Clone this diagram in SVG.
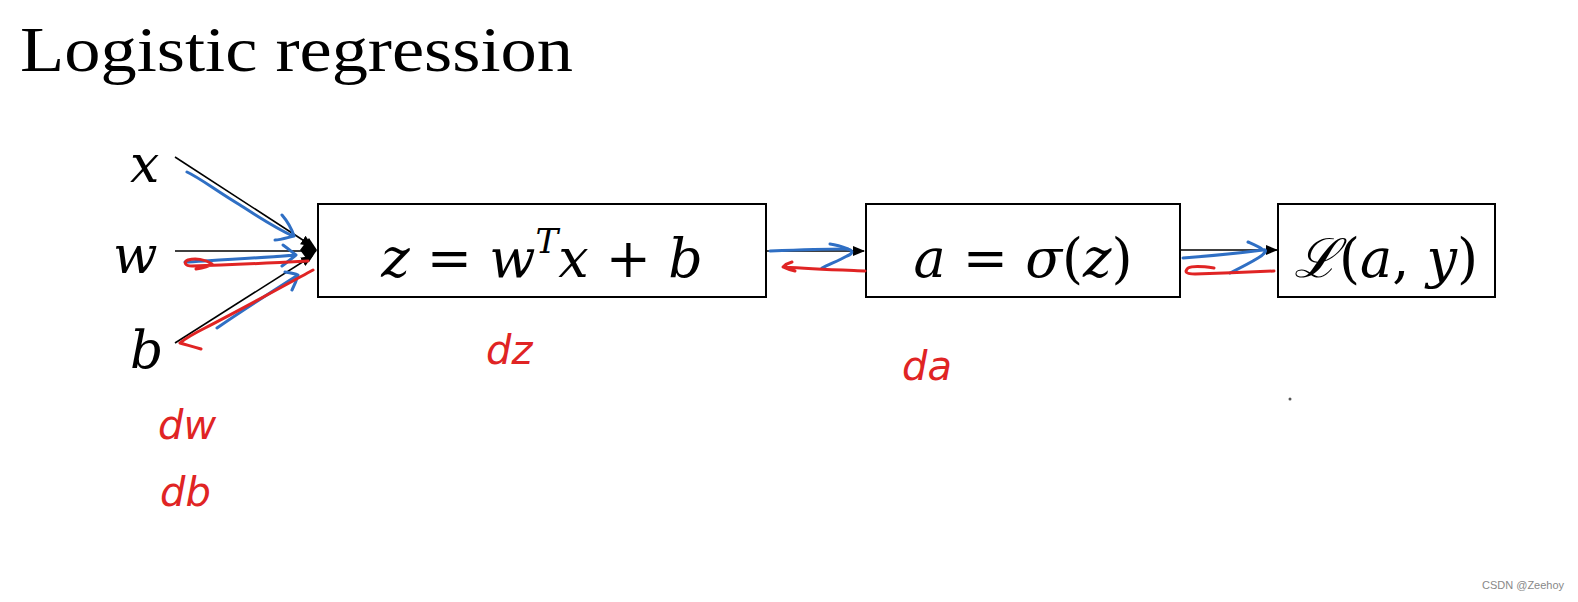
<svg xmlns="http://www.w3.org/2000/svg" width="1578" height="602" viewBox="0 0 1578 602">
<style>
.title{font-family:"Liberation Serif",serif;font-size:64px;fill:#000}
.math{font-family:"DejaVu Serif","Liberation Serif",serif;font-style:italic;font-size:54px;fill:#000}
.inp{font-family:"DejaVu Serif","Liberation Serif",serif;font-style:italic;font-size:52px;fill:#000}
.box{fill:#fff;stroke:#000;stroke-width:2}
.ln{stroke:#000;stroke-width:1.6;fill:none}
.blue{stroke:#2f6fc4;stroke-width:3;fill:none;stroke-linecap:round;stroke-linejoin:round}
.red{stroke:#e02424;stroke-width:3;fill:none;stroke-linecap:round;stroke-linejoin:round}
.hand{font-family:"DejaVu Sans",sans-serif;font-style:italic;font-size:40px;fill:#e02424}
.wm{font-family:"Liberation Sans",sans-serif;font-size:11px;fill:#888}
</style>
<defs>
<marker id="ah" markerWidth="12" markerHeight="12" refX="11" refY="6" orient="auto" markerUnits="userSpaceOnUse">
<path d="M0,1 L12,6 L0,11 Z" fill="#000"/>
</marker>
</defs>
<rect width="1578" height="602" fill="#fff"/>
<text class="title" x="20" y="71" textLength="553" lengthAdjust="spacingAndGlyphs">Logistic regression</text>

<g id="input-x"><text class="inp" x="130" y="182">x</text></g>
<g id="input-w"><text class="inp" x="113" y="273">w</text></g>
<g id="input-b"><text class="inp" x="130" y="368">b</text></g>

<g id="node-z">
<rect class="box" x="318" y="204" width="448" height="93"/>
<text class="math" x="542" y="277" text-anchor="middle">z <tspan font-style="normal">=</tspan> w<tspan font-size="34" dy="-24">T</tspan><tspan dy="24">x </tspan><tspan font-style="normal">+</tspan> b</text>
</g>
<g id="node-a">
<rect class="box" x="866" y="204" width="314" height="93"/>
<text class="math" x="1023" y="277" text-anchor="middle">a <tspan font-style="normal">=</tspan>  σ<tspan font-style="normal">(</tspan>z<tspan font-style="normal">)</tspan></text>
</g>
<g id="node-L">
<rect class="box" x="1278" y="204" width="217" height="93"/>
<text class="math" x="1386" y="277" text-anchor="middle">ℒ<tspan font-style="normal">(</tspan>a<tspan font-style="normal">,</tspan> y<tspan font-style="normal">)</tspan></text>
</g>

<g id="connectors">
<line class="ln" x1="175" y1="157" x2="312" y2="246" marker-end="url(#ah)"/>
<line class="ln" x1="175" y1="251" x2="316" y2="251" marker-end="url(#ah)"/>
<line class="ln" x1="175" y1="343" x2="312" y2="256" marker-end="url(#ah)"/>
<path d="M300,250 L309,238 L317,250 L309,262 Z" fill="#000"/>
<line class="ln" x1="767" y1="251" x2="864" y2="251" marker-end="url(#ah)"/>
<line class="ln" x1="1181" y1="250" x2="1277" y2="250" marker-end="url(#ah)"/>
</g>

<g id="annotations">
<path class="blue" d="M187,172 C200,178 215,190 240,205 C260,218 275,228 293,236 M282,215 C288,222 292,230 294,236 C286,238 280,240 275,240"/>
<path class="blue" d="M185,262 C220,260 260,258 296,255 M283,245 C290,250 293,253 296,255 C290,260 286,263 282,266"/>
<path class="red" d="M308,261 C270,263 230,265 192,266 C185,266 183,262 188,260 C195,258 205,259 212,264 C208,267 202,268 196,269"/>
<path class="blue" d="M217,328 C240,312 265,296 298,275 M285,272 C292,273 296,274 298,275 C296,282 294,286 292,290"/>
<path class="red" d="M313,270 C280,288 240,310 205,328 C195,333 186,338 180,343 C186,345 192,346 201,349"/>
<path class="blue" d="M770,251 C795,250 820,249 845,249 C852,249 855,253 847,256 C840,260 830,264 822,268"/>
<path class="blue" d="M830,244 C838,245 843,247 848,249"/>
<path class="red" d="M865,271 C840,270 810,269 784,267 M792,262 C788,263 785,265 783,267 C787,269 790,270 795,271"/>
<path class="blue" d="M1183,258 C1210,256 1240,253 1263,250 C1268,249 1265,254 1258,258 C1250,263 1240,268 1230,273 M1248,242 C1255,245 1260,247 1263,250"/>
<path class="red" d="M1274,271 C1250,272 1220,273 1195,274 C1186,274 1184,272 1188,268 C1192,266 1200,266 1214,268"/>
<text class="hand" x="486" y="364">dz</text>
<text class="hand" x="902" y="380">da</text>
<text class="hand" x="158" y="439">dw</text>
<text class="hand" x="160" y="506">db</text>
<circle cx="1290" cy="399" r="1.5" fill="#555"/>
</g>
<text class="wm" x="1482" y="589">CSDN @Zeehoy</text>
</svg>
